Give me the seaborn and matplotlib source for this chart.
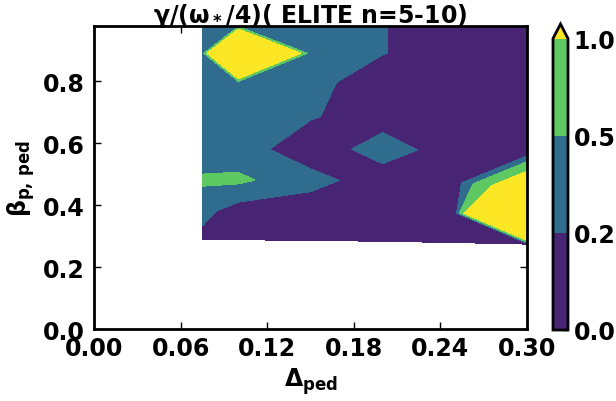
import numpy as np
import matplotlib
matplotlib.use("Agg")
import matplotlib.pyplot as plt
from matplotlib.ticker import FormatStrFormatter
import seaborn as sns

# ---- data ----
delta_ped = [0.075, 0.10, 0.15, 0.20, 0.25, 0.30]          # Δ_ped grid columns
# β_p,ped of each grid node (rows bottom -> top, one value per column)
beta_row0 = [0.290, 0.288, 0.286, 0.283, 0.279, 0.274]
beta_row1 = [0.380, 0.380, 0.380, 0.380, 0.374, 0.370]
beta_row2 = [0.480, 0.480, 0.480, 0.480, 0.473, 0.455]
beta_row3 = [0.580, 0.580, 0.580, 0.580, 0.575, 0.570]
beta_row4 = [0.685, 0.685, 0.685, 0.685, 0.685, 0.685]
beta_row5 = [0.795, 0.795, 0.795, 0.795, 0.795, 0.795]
beta_row6 = [0.890, 0.890, 0.890, 0.890, 0.890, 0.890]
beta_row7 = [0.980, 0.980, 0.980, 0.980, 0.980, 0.980]
# γ/(ω*/4) at each node
gamma_row0 = [0.12, 0.05, 0.01, 0.01, 0.01, 0.01]
gamma_row1 = [0.29, 0.05, 0.03, 0.01, 0.01, 8.00]
gamma_row2 = [0.55, 0.56, 0.30, 0.05, 0.03, 1.89]
gamma_row3 = [0.30, 0.33, 0.03, 0.33, 0.06, 0.01]
gamma_row4 = [0.30, 0.30, 0.22, 0.075, 0.03, 0.01]
gamma_row5 = [0.30, 0.25, 0.30, 0.02, 0.01, 0.01]
gamma_row6 = [0.25, 6.00, 0.25, 0.21, 0.05, 0.01]
gamma_row7 = [0.30, 0.25, 0.30, 0.21, 0.05, 0.01]

levels = [0.0, 0.2, 0.5, 1.0]
xticks = [0.00, 0.06, 0.12, 0.18, 0.24, 0.30]
yticks = [0.0, 0.2, 0.4, 0.6, 0.8]
cbar_ticks = [0.0, 0.2, 0.5, 1.0]
title = r'$\gamma/(\omega_*/4)$( ELITE n=5-10)'
xlabel = r'$\Delta_{ped}$'
ylabel = r'$\beta_{p,\,ped}$'

# ---- style ----
sns.set_theme(style="ticks")
plt.rcParams.update({
    "font.family": ["DejaVu Sans"],
    "font.weight": "bold",
    "font.size": 17,
    "mathtext.fontset": "dejavusans",
    "mathtext.default": "bf",
    "axes.edgecolor": "black",
    "axes.labelcolor": "black",
    "text.color": "black",
    "xtick.color": "black",
    "ytick.color": "black",
    "axes.linewidth": 2.0,
    "axes.facecolor": "white",
    "figure.facecolor": "white",
})

fig = plt.figure(figsize=(6.16, 4.02), dpi=100)
ax = fig.add_axes([94 / 616, 1 - 330 / 402, 433 / 616, 303 / 402])

X = np.tile(np.array(delta_ped), (8, 1))
Y = np.array([beta_row0, beta_row1, beta_row2, beta_row3,
              beta_row4, beta_row5, beta_row6, beta_row7])
Z = np.array([gamma_row0, gamma_row1, gamma_row2, gamma_row3,
              gamma_row4, gamma_row5, gamma_row6, gamma_row7])

cmap = sns.color_palette("viridis", as_cmap=True)
cs = ax.contourf(X, Y, Z, levels=levels, cmap=cmap, extend="max")

ax.set_xlim(0.0, 0.30)
ax.set_ylim(0.0, 0.978)
ax.set_xticks(xticks)
ax.set_yticks(yticks)
ax.xaxis.set_major_formatter(FormatStrFormatter("%.2f"))
ax.yaxis.set_major_formatter(FormatStrFormatter("%.1f"))
ax.tick_params(axis="both", which="major", direction="in", length=5, width=1,
               top=True, right=True, labelsize=17)
ax.tick_params(axis="x", pad=5)
ax.tick_params(axis="y", pad=7)
for lab in ax.get_xticklabels() + ax.get_yticklabels():
    lab.set_fontweight("bold")

ax.set_xlabel(xlabel, fontsize=17, labelpad=4)
ax.set_ylabel(ylabel, fontsize=17, labelpad=4)
ax.set_title(title, fontsize=17, fontweight="bold", pad=3)

cax = fig.add_axes([553 / 616, 1 - 331 / 402, 15 / 616, 306 / 402])
cbar = fig.colorbar(cs, cax=cax, ticks=cbar_ticks)
cbar.ax.yaxis.set_major_formatter(FormatStrFormatter("%.1f"))
cbar.ax.tick_params(direction="in", length=4, width=1, labelsize=17, pad=4)
cbar.outline.set_linewidth(2.0)
for lab in cbar.ax.get_yticklabels():
    lab.set_fontweight("bold")

fig.savefig("out.png", dpi=100)
